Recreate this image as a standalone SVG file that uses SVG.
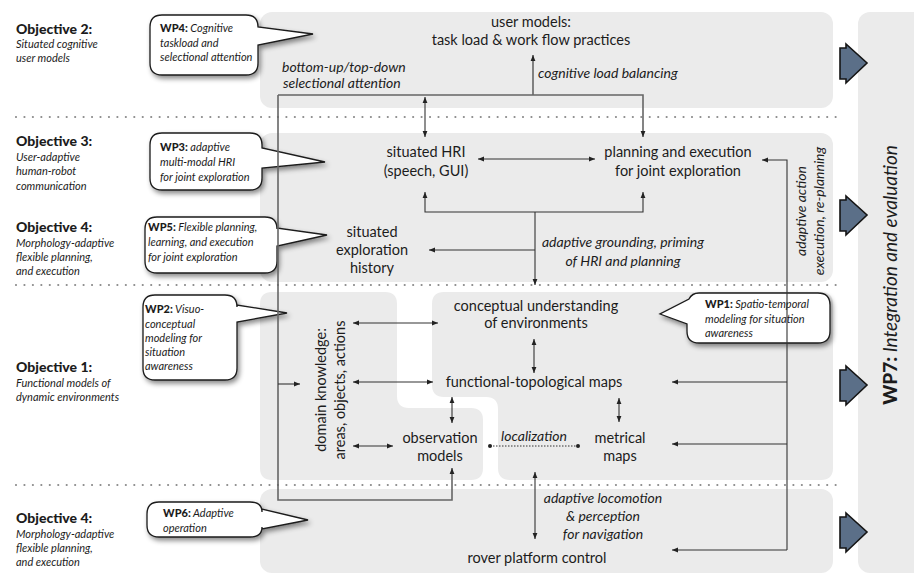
<svg xmlns="http://www.w3.org/2000/svg" width="914" height="574" viewBox="0 0 914 574">
  <style>
    text { font-family: Lato, "Open Sans", "Liberation Sans", sans-serif; fill: #1c1c1c; }
    .obj { font-size: 14px; font-weight: 900; }
    .od { font-size: 11px; font-style: italic; }
    .wp { font-size: 11px; font-style: italic; }
    .wpb { font-weight: 900; font-style: normal; }
    .n { font-size: 14.5px; text-anchor: middle; }
    .lab { font-size: 14px; font-style: italic; }
    .panel { fill: #ebebeb; }
    .dots { stroke: #8a8a8a; stroke-width: 2.2; stroke-linecap: round; stroke-dasharray: 0 8.45; fill: none; }
    .bubble { fill: #ffffff; stroke: #1a1a1a; stroke-width: 1.3; filter: url(#shadow); }
    .c { fill: none; stroke: #333; stroke-width: 1.1; }
    .cg { fill: none; stroke: #666; stroke-width: 1.6; }
    .big { fill: #5b6f88; stroke: #151515; stroke-width: 1.6; stroke-linejoin: miter; }
  </style>
  <defs>
    <marker id="ah" viewBox="0 0 10 10" refX="10" refY="5" markerWidth="6" markerHeight="6" orient="auto-start-reverse" markerUnits="userSpaceOnUse">
      <path d="M0,1 L10,5 L0,9 Z" fill="#222"/>
    </marker>
    <filter id="shadow" x="-20%" y="-20%" width="150%" height="160%">
      <feDropShadow dx="2" dy="3" stdDeviation="2.5" flood-color="#000" flood-opacity="0.45"/>
    </filter>
  </defs>

  <!-- background panels -->
  <g id="panels">
    <rect class="panel" x="260" y="12" width="573" height="96" rx="12"/>
    <rect class="panel" x="260" y="133" width="573" height="149" rx="12"/>
    <path class="panel" d="M272,292 H385 Q397,292 397,304 V396 Q397,408 409,408 H471 Q483,408 483,420 V468 Q483,480 471,480 H272 Q260,480 260,468 V304 Q260,292 272,292 Z"/>
    <path class="panel" d="M444,292 H821 Q833,292 833,304 V468 Q833,480 821,480 H510 Q498,480 498,468 V409 Q498,397 486,397 H444 Q432,397 432,385 V304 Q432,292 444,292 Z"/>
    <rect class="panel" x="260" y="489" width="573" height="84" rx="12"/>
    <rect class="panel" x="858" y="12" width="70" height="561" rx="12"/>
  </g>

  <!-- dotted separators -->
  <g id="separators">
    <path class="dots" d="M16,117 H843"/>
    <path class="dots" d="M16,285 H843"/>
    <path class="dots" d="M16,485 H843"/>
  </g>

  <!-- objectives -->
  <g id="objective2">
    <text class="obj" x="16" y="34">Objective 2:</text>
    <text class="od" x="16" y="48">Situated cognitive</text>
    <text class="od" x="16" y="62">user models</text>
  </g>
  <g id="objective3">
    <text class="obj" x="16" y="146">Objective 3:</text>
    <text class="od" x="16" y="161">User-adaptive</text>
    <text class="od" x="16" y="175">human-robot</text>
    <text class="od" x="16" y="190">communication</text>
  </g>
  <g id="objective4a">
    <text class="obj" x="16" y="232">Objective 4:</text>
    <text class="od" x="16" y="247">Morphology-adaptive</text>
    <text class="od" x="16" y="261">flexible planning,</text>
    <text class="od" x="16" y="275">and execution</text>
  </g>
  <g id="objective1">
    <text class="obj" x="16" y="372">Objective 1:</text>
    <text class="od" x="16" y="387">Functional models of</text>
    <text class="od" x="16" y="401">dynamic environments</text>
  </g>
  <g id="objective4b">
    <text class="obj" x="16" y="523">Objective 4:</text>
    <text class="od" x="16" y="538">Morphology-adaptive</text>
    <text class="od" x="16" y="552">flexible planning,</text>
    <text class="od" x="16" y="566">and execution</text>
  </g>

  <!-- work package call-outs -->
  <g id="wp4">
    <path class="bubble" d="M162,15 H246 Q258,15 258,27 V27 L313,34 L258,45 V63 Q258,75 246,75 H162 Q150,75 150,63 V27 Q150,15 162,15 Z"/>
    <text class="wp" x="160" y="32"><tspan class="wpb">WP4:</tspan> Cognitive</text>
    <text class="wp" x="160" y="47">taskload and</text>
    <text class="wp" x="160" y="61">selectional attention</text>
  </g>
  <g id="wp3">
    <path class="bubble" d="M162,133 H250 Q262,133 262,145 V148 L325,162 L262,168 V178 Q262,190 250,190 H162 Q150,190 150,178 V145 Q150,133 162,133 Z"/>
    <text class="wp" x="160" y="151"><tspan class="wpb">WP3:</tspan> adaptive</text>
    <text class="wp" x="160" y="166">multi-modal HRI</text>
    <text class="wp" x="160" y="181">for joint exploration</text>
  </g>
  <g id="wp5">
    <path class="bubble" d="M157,217 H265 Q277,217 277,229 V228 L327,235 L277,246 V261 Q277,273 265,273 H157 Q145,273 145,261 V229 Q145,217 157,217 Z"/>
    <text class="wp" x="148" y="231"><tspan class="wpb">WP5:</tspan> Flexible planning,</text>
    <text class="wp" x="148" y="246">learning, and execution</text>
    <text class="wp" x="148" y="261">for joint exploration</text>
  </g>
  <g id="wp2">
    <path class="bubble" d="M155,295 H225 Q237,295 237,307 V305 L287,313 L237,322 V368 Q237,380 225,380 H155 Q143,380 143,368 V307 Q143,295 155,295 Z"/>
    <text class="wp" x="145" y="313"><tspan class="wpb">WP2:</tspan> Visuo-</text>
    <text class="wp" x="145" y="328">conceptual</text>
    <text class="wp" x="145" y="342">modeling for</text>
    <text class="wp" x="145" y="356">situation</text>
    <text class="wp" x="145" y="370">awareness</text>
  </g>
  <g id="wp6">
    <path class="bubble" d="M159,502 H250 Q262,502 262,512 V509 L308,520 L262,529 V527 Q262,537 250,537 H159 Q147,537 147,525 V514 Q147,502 159,502 Z"/>
    <text class="wp" x="163" y="517"><tspan class="wpb">WP6:</tspan> Adaptive</text>
    <text class="wp" x="163" y="532">operation</text>
  </g>
  <g id="wp1">
    <path class="bubble" d="M699,293 H818 Q830,293 830,305 V331 Q830,343 818,343 H699 Q687,343 687,331 V324 L660,314 L689,299 Q692,293 699,293 Z"/>
    <text class="wp" x="705" y="308"><tspan class="wpb">WP1:</tspan> Spatio-temporal</text>
    <text class="wp" x="705" y="323">modeling for situation</text>
    <text class="wp" x="705" y="337">awareness</text>
  </g>

  <!-- component nodes -->
  <g id="user-models">
    <text class="n" x="531" y="27">user models:</text>
    <text class="n" x="531" y="45">task load &amp; work flow practices</text>
  </g>
  <g id="situated-hri">
    <text class="n" x="426" y="157">situated HRI</text>
    <text class="n" x="426" y="176">(speech, GUI)</text>
  </g>
  <g id="planning-execution">
    <text class="n" x="678" y="157">planning and execution</text>
    <text class="n" x="678" y="176">for joint exploration</text>
  </g>
  <g id="exploration-history">
    <text class="n" x="372" y="237">situated</text>
    <text class="n" x="372" y="255">exploration</text>
    <text class="n" x="372" y="273">history</text>
  </g>
  <g id="conceptual-understanding">
    <text class="n" x="536" y="311">conceptual understanding</text>
    <text class="n" x="536" y="328">of environments</text>
  </g>
  <g id="functional-topological-maps">
    <text class="n" x="534" y="387">functional-topological maps</text>
  </g>
  <g id="domain-knowledge">
    <text class="n" transform="translate(326,390) rotate(-90)">domain knowledge:</text>
    <text class="n" transform="translate(345,390) rotate(-90)">areas, objects, actions</text>
  </g>
  <g id="observation-models">
    <text class="n" x="440" y="443">observation</text>
    <text class="n" x="440" y="461">models</text>
  </g>
  <g id="metrical-maps">
    <text class="n" x="620" y="443">metrical</text>
    <text class="n" x="620" y="461">maps</text>
  </g>
  <g id="rover-platform">
    <text class="n" x="537" y="563">rover platform control</text>
  </g>
  <g id="wp7">
    <text transform="translate(897,275) rotate(-90)" text-anchor="middle" style="font-size:19px"><tspan font-weight="900">WP7:</tspan><tspan font-style="italic">  Integration and evaluation</tspan></text>
  </g>

  <!-- transfer arrows into integration -->
  <g id="handover">
    <path class="big" d="M840,48 H846 V44 L867,63 L846,83 V79 H840 Z"/>
    <path class="big" d="M840,200 H846 V196 L867,215 L846,235 V231 H840 Z"/>
    <path class="big" d="M840,370 H846 V366 L867,385 L846,405 V401 H840 Z"/>
    <path class="big" d="M840,517 H846 V513 L867,532 L846,552 V548 H840 Z"/>
  </g>

  <!-- connectors -->
  <g id="connectors">
    <path class="cg" d="M278,95 V500 H452 V468" marker-end="url(#ah)"/>
    <path class="cg" d="M278,95 H643 V137" marker-end="url(#ah)"/>
    <path class="c" d="M425,97 V137" marker-start="url(#ah)" marker-end="url(#ah)"/>
    <path class="cg" d="M533,95 V55" marker-end="url(#ah)"/>
    <path class="c" d="M278,384 H300" marker-end="url(#ah)"/>

    <path class="c" d="M478,159 H595" marker-start="url(#ah)" marker-end="url(#ah)"/>
    <path class="c" d="M425,192 V212 H643 V192" marker-start="url(#ah)" marker-end="url(#ah)"/>
    <path class="c" d="M535,212 V285" marker-end="url(#ah)"/>
    <path class="c" d="M535,250 H429" marker-end="url(#ah)"/>

    <path class="c" d="M787,550 V160 H762" marker-end="url(#ah)"/>
    <path class="c" d="M787,382 H672" marker-end="url(#ah)"/>
    <path class="c" d="M787,444 H672" marker-end="url(#ah)"/>
    <path class="c" d="M787,550 H672" marker-end="url(#ah)"/>

    <path class="c" d="M353,323 H438" marker-start="url(#ah)" marker-end="url(#ah)"/>
    <path class="c" d="M353,382 H433" marker-start="url(#ah)" marker-end="url(#ah)"/>
    <path class="c" d="M353,446 H393" marker-start="url(#ah)" marker-end="url(#ah)"/>
    <path class="c" d="M534,339 V373" marker-start="url(#ah)" marker-end="url(#ah)"/>
    <path class="c" d="M452,397 V423" marker-start="url(#ah)" marker-end="url(#ah)"/>
    <path class="c" d="M619,398 V422" marker-start="url(#ah)" marker-end="url(#ah)"/>
    <path class="c" d="M535,472 V539" marker-start="url(#ah)" marker-end="url(#ah)"/>
    <path d="M490,446 H578" fill="none" stroke="#333" stroke-width="1" stroke-dasharray="1.5 1.5"/>
    <circle cx="490" cy="446" r="2" fill="#222"/>
    <circle cx="578" cy="446" r="2" fill="#222"/>
  </g>

  <!-- connector labels -->
  <g id="labels">
    <text class="lab" x="282" y="72">bottom-up/top-down</text>
    <text class="lab" x="283" y="88">selectional attention</text>
    <text class="lab" x="538" y="78">cognitive load balancing</text>
    <text class="lab" x="623" y="247" text-anchor="middle">adaptive grounding, priming</text>
    <text class="lab" x="623" y="266" text-anchor="middle">of HRI and planning</text>
    <text class="lab" transform="translate(806,211) rotate(-90)" text-anchor="middle">adaptive action</text>
    <text class="lab" transform="translate(824,211) rotate(-90)" text-anchor="middle">execution, re-planning</text>
    <text class="lab" x="534" y="441" text-anchor="middle">localization</text>
    <text class="lab" x="603" y="503" text-anchor="middle">adaptive locomotion</text>
    <text class="lab" x="603" y="521" text-anchor="middle">&amp; perception</text>
    <text class="lab" x="603" y="539" text-anchor="middle">for navigation</text>
  </g>
</svg>
